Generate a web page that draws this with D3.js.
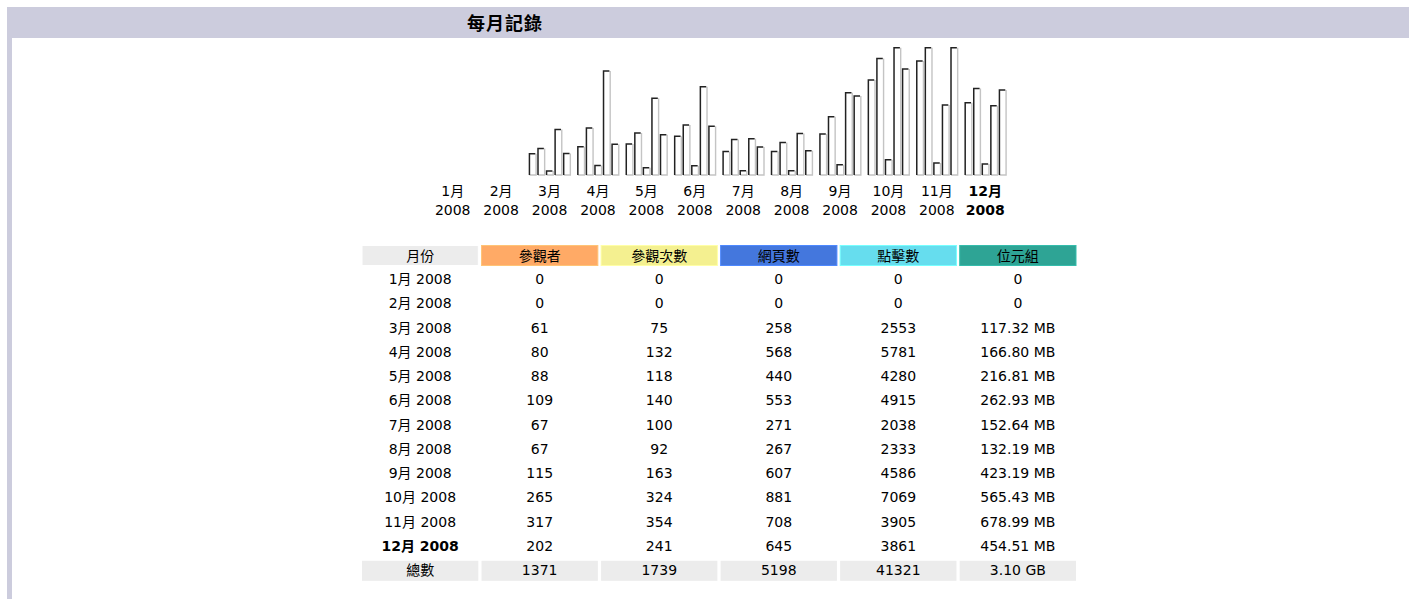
<!DOCTYPE html>
<html>
<head>
<meta charset="utf-8">
<script src="https://cdn.jsdelivr.net/npm/d3@7"></script>
<style>
body { margin: 0; background: #fff; }
text { font-family: "DejaVu Sans", "Noto Sans CJK TC", sans-serif; fill: #000; }
</style>
</head>
<body>
<svg id="chart" width="1409" height="599"></svg>
<script>
// monthly history (awstats style)
var monthNames = ['1月','2月','3月','4月','5月','6月','7月','8月','9月','10月','11月','12月'];
var year = '2008';
var visitors = [0, 0, 61, 80, 88, 109, 67, 67, 115, 265, 317, 202];
var visits   = [0, 0, 75, 132, 118, 140, 100, 92, 163, 324, 354, 241];
var pages    = [0, 0, 258, 568, 440, 553, 271, 267, 607, 881, 708, 645];
var hits     = [0, 0, 2553, 5781, 4280, 4915, 2038, 2333, 4586, 7069, 3905, 3861];
var bytesMB  = [0, 0, 117.32, 166.80, 216.81, 262.93, 152.64, 132.19, 423.19, 565.43, 678.99, 454.51];
var colHeaders = ['月份','參觀者','參觀次數','網頁數','點擊數','位元組'];
var colColors  = ['#ececec','#ffaa66','#f4f090','#4477dd','#66ddee','#2ea495'];
var title = '每月記錄';
var totalLabel = '總數';

var svg = d3.select('#chart');
var center = 719;

// frame + header band
svg.append('rect').attr('x', 7).attr('y', 7).attr('width', 1402).attr('height', 31).attr('fill', '#ccccdd');
svg.append('rect').attr('x', 7).attr('y', 7).attr('width', 5).attr('height', 592).attr('fill', '#ccccdd');
svg.append('text').attr('x', 467).attr('y', 30)
	.style('font-size', '18px').style('font-weight', 'bold').style('letter-spacing', '1px')
	.text(title);

// bar chart
var series = ['visitors','visits','pages','hits','bytes'];
var seriesData = { visitors: visitors, visits: visits, pages: pages, hits: hits, bytes: bytesMB };

var x0 = d3.scaleBand().domain(monthNames).range([center - 290.5, center + 290.5]);
var x1 = d3.scaleBand().domain(series).range([3.4, 45]).paddingInner(0.14);

var yVisits = d3.scaleLinear().domain([0, d3.max(visits)]).range([175, 47]);
var yHits = d3.scaleLinear().domain([0, d3.max(hits)]).range([175, 47]);
var yBytes = d3.scaleLinear().domain([0, d3.max(bytesMB)]).range([175, 47]);
var yFor = { visitors: yVisits, visits: yVisits, pages: yHits, hits: yHits, bytes: yBytes };

var bars = [];
monthNames.forEach(function(m, i) {
	series.forEach(function(s) {
		var v = seriesData[s][i];
		if (v > 0) bars.push({ month: m, key: s, value: v });
	});
});

var bar = svg.append('g').selectAll('g')
	.data(bars)
  .enter()
	.append('g')
	.attr('transform', function(d) { return 'translate(' + (x0(d.month) + x1(d.key)) + ',0)'; });

var bw = x1.bandwidth();
bar.append('rect')
	.attr('x', 0)
	.attr('y', function(d) { return yFor[d.key](d.value); })
	.attr('width', bw)
	.attr('height', function(d) { return 175 - yFor[d.key](d.value); })
	.attr('fill', '#fff');
bar.append('path')
	.attr('d', function(d) { var y = yFor[d.key](d.value); return 'M' + bw + ',' + (y + 0.7) + 'V175H0.7'; })
	.attr('fill', 'none').attr('stroke', '#c4c4c4').attr('stroke-width', 1.4);
bar.append('path')
	.attr('d', function(d) { var y = yFor[d.key](d.value); return 'M0.7,175V' + (y + 0.7) + 'H' + (bw - 0.8); })
	.attr('fill', 'none').attr('stroke', '#222').attr('stroke-width', 1.5);

// month labels
var lbl = svg.append('g').selectAll('text')
	.data(monthNames)
  .enter()
	.append('text')
	.attr('x', function(d) { return x0(d) + x0.bandwidth() / 2; })
	.attr('text-anchor', 'middle')
	.style('font-size', '14px')
	.style('font-weight', function(d, i) { return i === monthNames.length - 1 ? 'bold' : 'normal'; });
lbl.append('tspan').attr('x', function(d) { return x0(d) + x0.bandwidth() / 2; }).attr('y', 196).text(function(d) { return d; });
lbl.append('tspan').attr('x', function(d) { return x0(d) + x0.bandwidth() / 2; }).attr('y', 215).text(year);

// table
var colX = d3.scaleBand().domain(colHeaders).range([center - 357, center + 357]).paddingInner(0.027);
var fmtBytes = function(v) { return v === 0 ? '0' : v.toFixed(2) + ' MB'; };

var rows = monthNames.map(function(m, i) {
	return [m + ' ' + year, visitors[i], visits[i], pages[i], hits[i], fmtBytes(bytesMB[i])];
});
var totalRow = [totalLabel, d3.sum(visitors), d3.sum(visits), d3.sum(pages), d3.sum(hits),
	(d3.sum(bytesMB) / 1024).toFixed(2) + ' GB'];

var rowY = d3.scaleLinear().domain([0, 12]).range([279, 570.3]);

var head = svg.append('g');
head.selectAll('rect')
	.data(colHeaders)
  .enter()
	.append('rect')
	.attr('x', function(d) { return colX(d); })
	.attr('y', 245.5)
	.attr('width', colX.bandwidth())
	.attr('height', 20)
	.attr('fill', function(d, i) { return colColors[i]; })
	.attr('stroke', function(d, i) { return d3.color(colColors[i]).brighter(0.4); })
	.attr('stroke-width', 1);
head.selectAll('text')
	.data(colHeaders)
  .enter()
	.append('text')
	.attr('x', function(d) { return colX(d) + colX.bandwidth() / 2; })
	.attr('y', 261)
	.attr('text-anchor', 'middle')
	.style('font-size', '14px')
	.text(function(d) { return d; });

svg.append('g').selectAll('rect')
	.data(colHeaders)
  .enter()
	.append('rect')
	.attr('x', function(d) { return colX(d); })
	.attr('y', rowY(12) - 9.5)
	.attr('width', colX.bandwidth())
	.attr('height', 20)
	.attr('fill', '#ececec');

var allRows = rows.concat([totalRow]);
var tr = svg.append('g').selectAll('g')
	.data(allRows)
  .enter()
	.append('g')
	.attr('transform', function(d, i) { return 'translate(0,' + (rowY(i) + 5) + ')'; });
tr.selectAll('text')
	.data(function(d, i) { return d.map(function(v, j) { return { v: v, col: j, row: i }; }); })
  .enter()
	.append('text')
	.attr('x', function(d) { return colX(colHeaders[d.col]) + colX.bandwidth() / 2; })
	.attr('text-anchor', 'middle')
	.style('font-size', '14px')
	.style('font-weight', function(d) { return d.row === 11 && d.col === 0 ? 'bold' : 'normal'; })
	.text(function(d) { return d.v; });
</script>
</body>
</html>
